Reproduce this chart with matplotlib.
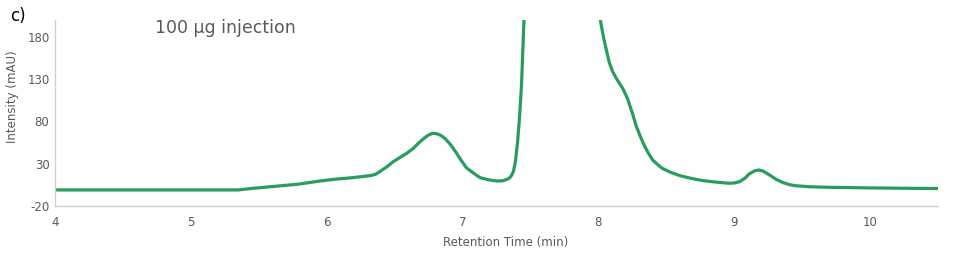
import numpy as np
import matplotlib.pyplot as plt

plt.rcParams["axes.unicode_minus"] = False

# retention time (min) and intensity (mAU)
rt = [4.0, 5.0, 5.35, 5.45, 5.6, 5.8, 5.95, 6.07, 6.19, 6.27, 6.32, 6.36,
      6.39, 6.44, 6.49, 6.54, 6.59, 6.64, 6.68, 6.72, 6.75, 6.78, 6.81,
      6.84, 6.87, 6.91, 6.95, 6.99, 7.03, 7.08, 7.13, 7.19, 7.25, 7.29,
      7.32, 7.345, 7.36, 7.375, 7.39, 7.405, 7.42, 7.435, 7.45, 7.47, 7.5,
      7.75, 7.97, 8.0, 8.02, 8.04, 8.06, 8.08, 8.105, 8.14, 8.18, 8.215,
      8.25, 8.28, 8.31, 8.34, 8.37, 8.40, 8.44, 8.47, 8.53, 8.60, 8.68,
      8.77, 8.87, 8.96, 9.0, 9.04, 9.08, 9.11, 9.15, 9.18, 9.21, 9.26,
      9.31, 9.36, 9.41, 9.45, 9.55, 9.7, 10.0, 10.3, 10.5]
intensity = [-1, -1, -1, 0.8, 3, 6, 9.6, 11.8, 13.5, 15, 15.9, 17.5,
             20.6, 26, 32.4, 37.5, 42.4, 48.5, 55, 60.5, 64, 66, 65.5,
             63.5, 60, 53, 44, 34, 25, 19, 13.5, 11, 9.6, 9.7,
             11, 13, 16, 21, 33, 55, 85, 125, 190, 280, 400,
             900, 330, 220, 195, 178, 164, 150, 139, 129, 119, 107,
             90, 74, 62, 51, 42, 34.4, 28.5, 24.6, 20, 15.9, 12.8,
             10, 8.2, 6.9, 7.2, 8.8, 13, 17.9, 21.5, 22.6, 21.5, 16.7,
             11.5, 7.6, 5.2, 4, 2.8, 2.1, 1.4, 0.9, 0.7]

TEXT = "#595959"
GREEN = "#2a9d5c"

fig = plt.figure(figsize=(9.6, 2.6), dpi=100)
ax = fig.add_axes([0.0573, 0.2077, 0.9197, 0.7153])

ax.plot(rt, intensity, color=GREEN, lw=2.3, solid_capstyle="round",
        solid_joinstyle="round")

ax.set_xlim(4, 10.5)
ax.set_ylim(-20, 200)
ax.set_xticks(range(4, 11))
ax.set_yticks([-20, 30, 80, 130, 180])

for s in ["top", "right"]:
    ax.spines[s].set_visible(False)
for s in ["left", "bottom"]:
    ax.spines[s].set_color("#d0d0d0")
    ax.spines[s].set_linewidth(1.0)
ax.tick_params(length=0, labelsize=8.5, labelcolor=TEXT)
ax.tick_params(axis="x", pad=7)
ax.tick_params(axis="y", pad=4)

ax.set_xlabel("Retention Time (min)", fontsize=8.5, color=TEXT)
ax.set_ylabel("Intensity (mAU)", fontsize=8.5, color=TEXT)
ax.xaxis.set_label_coords(0.51, -0.161)
ax.yaxis.set_label_coords(-0.041, 0.586)

fig.text(10 / 960, 1 - 16 / 260, "c)", fontsize=12, color="black", va="center")
fig.text(155 / 960, 1 - 28 / 260, "100 µg injection",
         fontsize=12.5, color=TEXT, va="center")

fig.savefig("out.png", dpi=100)
